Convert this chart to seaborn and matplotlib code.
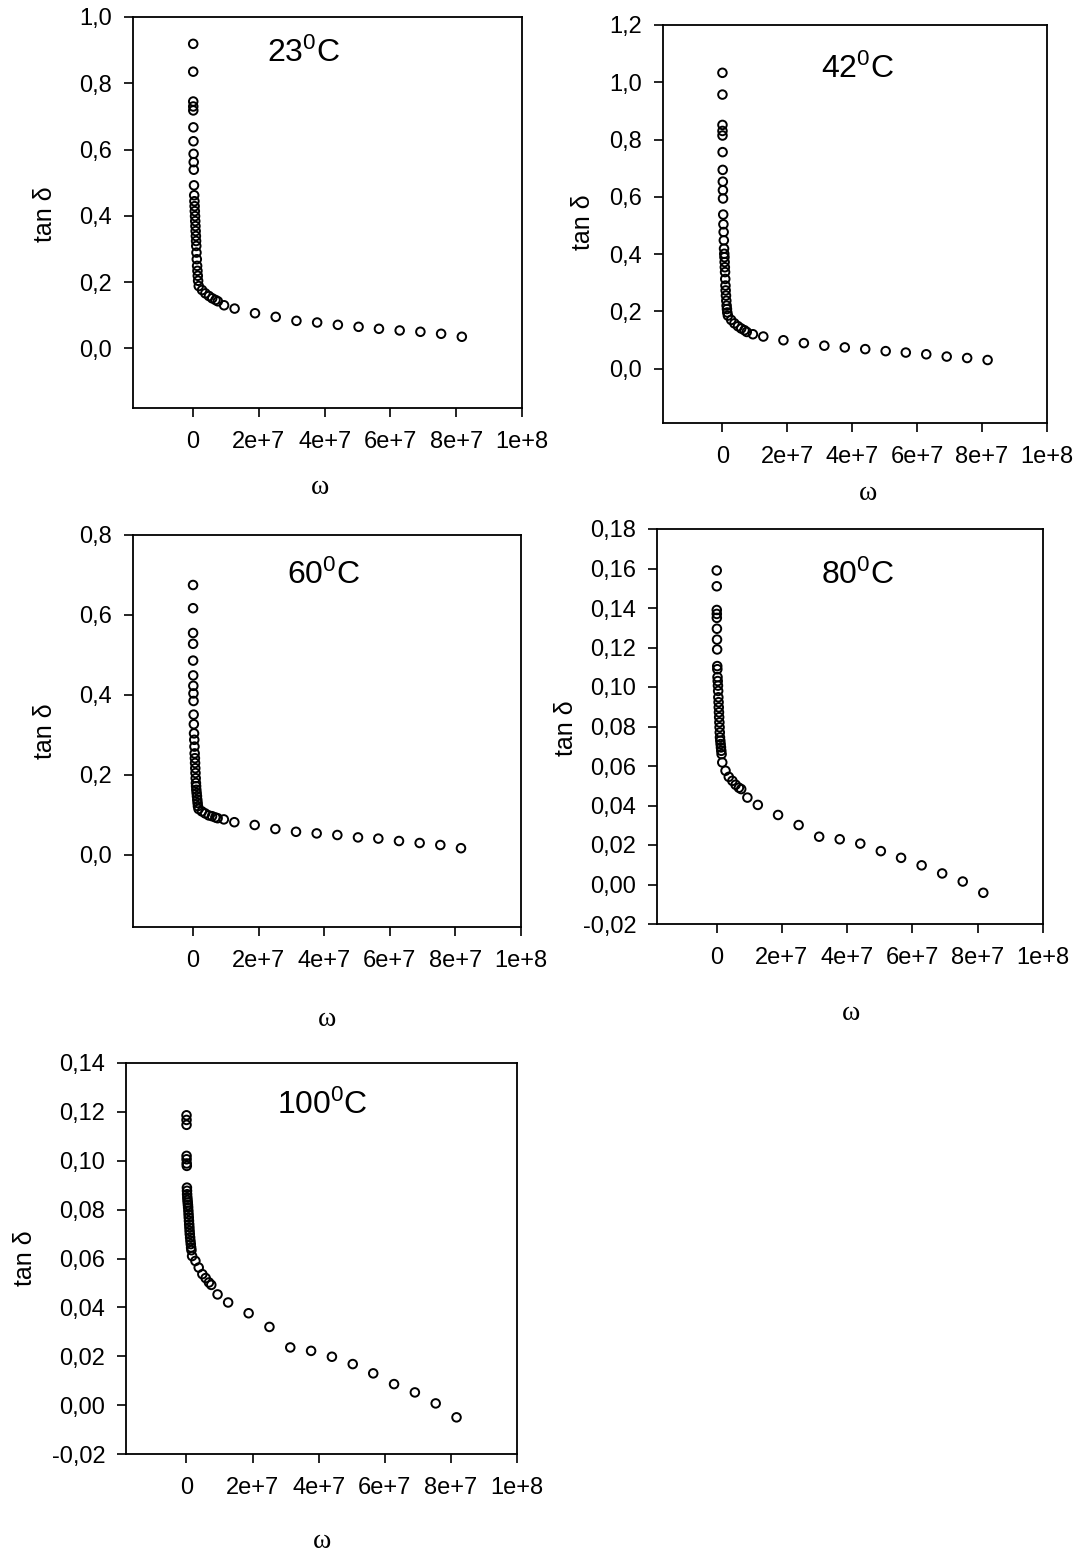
import numpy as np
import pandas as pd
import matplotlib
matplotlib.use("Agg")
import matplotlib.pyplot as plt
import seaborn as sns

# ---------------- data ----------------
omega = [6.3e3, 1.3e4, 1.9e4, 2.5e4, 3.1e4, 6.3e4, 9.4e4, 1.3e5, 1.6e5, 1.9e5,
         2.5e5, 3.1e5, 3.8e5, 4.4e5, 5.0e5, 5.7e5, 6.3e5, 6.9e5, 7.5e5, 8.2e5,
         8.8e5, 9.4e5, 1.0e6, 1.1e6, 1.2e6, 1.3e6, 1.4e6, 1.5e6,
         1.7e6, 2.7e6, 3.7e6, 4.8e6, 5.8e6, 6.8e6, 7.5e6,
         9.4e6, 1.26e7, 1.88e7, 2.51e7, 3.14e7, 3.77e7, 4.40e7, 5.03e7, 5.65e7,
         6.28e7, 6.91e7, 7.54e7, 8.17e7]

tan_23 = [0.919, 0.835, 0.745, 0.730, 0.718, 0.667, 0.625, 0.587, 0.562, 0.539,
          0.492, 0.462, 0.444, 0.429, 0.414, 0.399, 0.384, 0.369, 0.354, 0.339,
          0.324, 0.309, 0.289, 0.269, 0.249, 0.234, 0.219, 0.204,
          0.188, 0.176, 0.166, 0.158, 0.151, 0.146, 0.142,
          0.130, 0.120, 0.106, 0.095, 0.083, 0.078, 0.071, 0.065, 0.059,
          0.054, 0.050, 0.044, 0.035]

tan_42 = [1.033, 0.957, 0.851, 0.830, 0.814, 0.756, 0.694, 0.653, 0.623, 0.594,
          0.538, 0.504, 0.477, 0.448, 0.419, 0.401, 0.389, 0.372, 0.354, 0.337,
          0.313, 0.290, 0.273, 0.255, 0.237, 0.220, 0.208, 0.196,
          0.185, 0.170, 0.158, 0.148, 0.140, 0.134, 0.128,
          0.120, 0.112, 0.099, 0.089, 0.080, 0.074, 0.068, 0.061, 0.056,
          0.050, 0.042, 0.037, 0.030]

tan_60 = [0.675, 0.617, 0.555, 0.528, 0.486, 0.449, 0.423, 0.404, 0.385, 0.351,
          0.327, 0.304, 0.288, 0.271, 0.254, 0.242, 0.230, 0.217, 0.205, 0.192,
          0.180, 0.172, 0.163, 0.155, 0.147, 0.138, 0.130, 0.122,
          0.115, 0.109, 0.104, 0.099, 0.097, 0.094, 0.092,
          0.089, 0.082, 0.075, 0.065, 0.058, 0.054, 0.050, 0.044, 0.041,
          0.035, 0.030, 0.025, 0.017]

tan_80 = [0.159, 0.151, 0.139, 0.137, 0.135, 0.1295, 0.124, 0.119, 0.1106, 0.109,
          0.105, 0.103, 0.1007, 0.098, 0.0948, 0.0923, 0.0897, 0.0872, 0.0847, 0.0821,
          0.0796, 0.077, 0.0745, 0.0728, 0.0711, 0.0694, 0.0677, 0.066,
          0.0618, 0.0576, 0.0545, 0.0525, 0.0505, 0.049, 0.0483,
          0.044, 0.0403, 0.0352, 0.0301, 0.0242, 0.0229, 0.0207, 0.0169, 0.0135,
          0.0097, 0.0056, 0.0015, -0.0042]

tan_100 = [0.1186, 0.1167, 0.1147, 0.102, 0.1006, 0.0989, 0.0979, 0.089, 0.0877, 0.0863,
           0.085, 0.0839, 0.0829, 0.0819, 0.0809, 0.0795, 0.0781, 0.0768, 0.0754, 0.074,
           0.0727, 0.0713, 0.07, 0.0686, 0.0672, 0.0659, 0.0645, 0.0634,
           0.061, 0.059, 0.0563, 0.0536, 0.052, 0.0502, 0.0492,
           0.0453, 0.042, 0.0376, 0.032, 0.0236, 0.0222, 0.0198, 0.0168, 0.013,
           0.0086, 0.0052, 0.0007, -0.005]

temperatures = ["23", "42", "60", "80", "100"]
x_ticks = [0, 2e7, 4e7, 6e7, 8e7, 1e8]
x_tick_labels = ["0", "2e+7", "4e+7", "6e+7", "8e+7", "1e+8"]
y_ticks_23 = [0.0, 0.2, 0.4, 0.6, 0.8, 1.0]
y_ticks_42 = [0.0, 0.2, 0.4, 0.6, 0.8, 1.0, 1.2]
y_ticks_60 = [0.0, 0.2, 0.4, 0.6, 0.8]
y_ticks_80 = [-0.02, 0.0, 0.02, 0.04, 0.06, 0.08, 0.10, 0.12, 0.14, 0.16, 0.18]
y_ticks_100 = [-0.02, 0.0, 0.02, 0.04, 0.06, 0.08, 0.10, 0.12, 0.14]

# ---------------- style ----------------
sns.set_theme(style="white")
plt.rcParams["font.family"] = ["Liberation Sans", "DejaVu Sans"]
plt.rcParams["mathtext.fontset"] = "custom"
plt.rcParams["mathtext.rm"] = "Liberation Sans"
plt.rcParams["mathtext.it"] = "Liberation Sans:italic"
plt.rcParams["mathtext.bf"] = "Liberation Sans:bold"

W, H = 1082, 1555
fig = plt.figure(figsize=(W / 100, H / 100), dpi=100)
fig.patch.set_facecolor("white")


def rect(l, r, t, b):
    return [l / W, 1 - b / H, (r - l) / W, (b - t) / H]


def fx(x):
    return x / W


def fy(y):
    return 1 - y / H


panels = [
    dict(vals=tan_23, box=(133, 522, 17, 408), ylim=(-0.18, 1.0), yt=y_ticks_23, fmt="{:.1f}",
         title=(304, 62), ylab=(45, 214), xlab=(320, 488)),
    dict(vals=tan_42, box=(663, 1047, 25, 423), ylim=(-0.19, 1.2), yt=y_ticks_42, fmt="{:.1f}",
         title=(858, 78), ylab=(583, 222), xlab=(868, 494)),
    dict(vals=tan_60, box=(133, 521, 535, 927), ylim=(-0.18, 0.8), yt=y_ticks_60, fmt="{:.1f}",
         title=(324, 584), ylab=(45, 731), xlab=(327, 1020)),
    dict(vals=tan_80, box=(657, 1043, 529, 924), ylim=(-0.02, 0.18), yt=y_ticks_80, fmt="{:.2f}",
         title=(858, 584), ylab=(566, 728), xlab=(851, 1013)),
    dict(vals=tan_100, box=(126, 517, 1063, 1454), ylim=(-0.02, 0.14), yt=y_ticks_100, fmt="{:.2f}",
         title=(322, 1114), ylab=(25, 1258), xlab=(322, 1542)),
]

for temp, p in zip(temperatures, panels):
    ax = fig.add_axes(rect(*p["box"]))
    df = pd.DataFrame({"omega": omega, "tan": p["vals"]})
    sns.scatterplot(data=df, x="omega", y="tan", ax=ax, marker="o", s=38,
                    facecolors="none", edgecolor="black", linewidth=1.4,
                    legend=False, zorder=3)
    ax.set_xlim(-1.83e7, 1e8)
    ax.set_ylim(*p["ylim"])
    ax.set_xticks(x_ticks)
    ax.set_xticklabels(x_tick_labels)
    ax.set_yticks(p["yt"])
    ax.set_yticklabels([p["fmt"].format(v).replace(".", ",").replace("-0,00", "0,00") for v in p["yt"]])
    ax.set_xlabel("")
    ax.set_ylabel("")
    ax.set_facecolor("none")
    for s in ax.spines.values():
        s.set_visible(True)
        s.set_color("black")
        s.set_linewidth(1.3)
    ax.tick_params(axis="both", which="major", bottom=True, left=True, top=False, right=False,
                   direction="out", length=6.5, width=1.2, color="black",
                   labelsize=17, labelcolor="black")
    ax.tick_params(axis="x", pad=10)
    ax.tick_params(axis="y", pad=8.5)
    ax.grid(False)

    tx, ty = p["title"]
    fig.text(fx(tx), fy(ty), temp + r"$^{0}$C", ha="center", va="baseline",
             fontsize=23, color="black")
    lx, ly = p["ylab"]
    fig.text(fx(lx), fy(ly), "tan δ", ha="center", va="center", rotation=90,
             fontsize=18, color="black")
    wx, wy = p["xlab"]
    fig.text(fx(wx), fy(wy), "ω", ha="center", va="center",
             fontsize=20, color="black", family=["Liberation Serif", "DejaVu Serif"])

fig.savefig("out.png", dpi=100, facecolor="white")
